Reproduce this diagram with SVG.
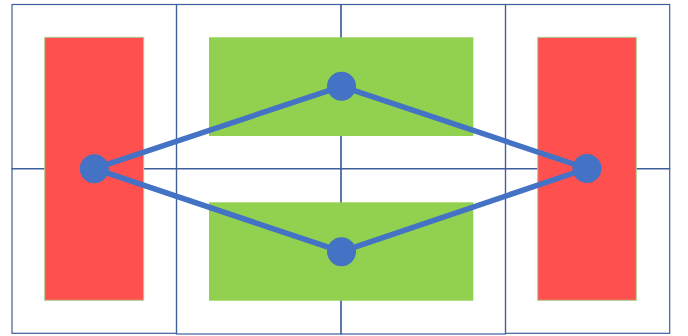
<svg xmlns="http://www.w3.org/2000/svg" width="688" height="336" viewBox="0 0 688 336">
<style>
.cell{fill:none;stroke:#3F5E9C;stroke-width:1.2}
.red{fill:#FF5050;stroke:#A9D18E;stroke-width:1}
.green{fill:#92D050}
.dot{fill:#4472C4}
.conn{fill:none;stroke:#4472C4;stroke-width:5.5;stroke-linejoin:round}
</style>
<rect width="688" height="336" fill="#FFFFFF"/>
<g id="grid">
<rect class="cell" x="12" y="4.5" width="164.5" height="164.2"/>
<rect class="cell" x="12" y="168.7" width="164.5" height="164.6"/>
<rect class="cell" x="176.5" y="4.5" width="164.5" height="164.2"/>
<rect class="cell" x="176.5" y="168.7" width="164.5" height="165.3"/>
<rect class="cell" x="341" y="4.5" width="164.5" height="164.2"/>
<rect class="cell" x="341" y="168.7" width="164.5" height="165.3"/>
<rect class="cell" x="505.5" y="4.5" width="164.2" height="164.2"/>
<rect class="cell" x="505.5" y="168.7" width="164.2" height="164.6"/>
</g>
<g id="red-left"><rect class="red" x="44.7" y="37.3" width="99" height="263"/></g>
<g id="red-right"><rect class="red" x="537.7" y="37.3" width="98.6" height="263"/></g>
<g id="green-top"><rect class="green" x="209" y="37.3" width="264.3" height="98.7"/></g>
<g id="green-bottom"><rect class="green" x="209" y="202.3" width="264.3" height="98.4"/></g>
<g id="connectors">
<polyline class="conn" points="94.3,168.7 341.5,86.3 587,168.5 341.5,251.7 94.3,168.7"/>
</g>
<g id="node-left"><circle class="dot" cx="94.3" cy="168.7" r="14.5"/></g>
<g id="node-top"><circle class="dot" cx="341.5" cy="86.3" r="14.5"/></g>
<g id="node-right"><circle class="dot" cx="587" cy="168.5" r="14.5"/></g>
<g id="node-bottom"><circle class="dot" cx="341.5" cy="251.7" r="14.5"/></g>
</svg>
